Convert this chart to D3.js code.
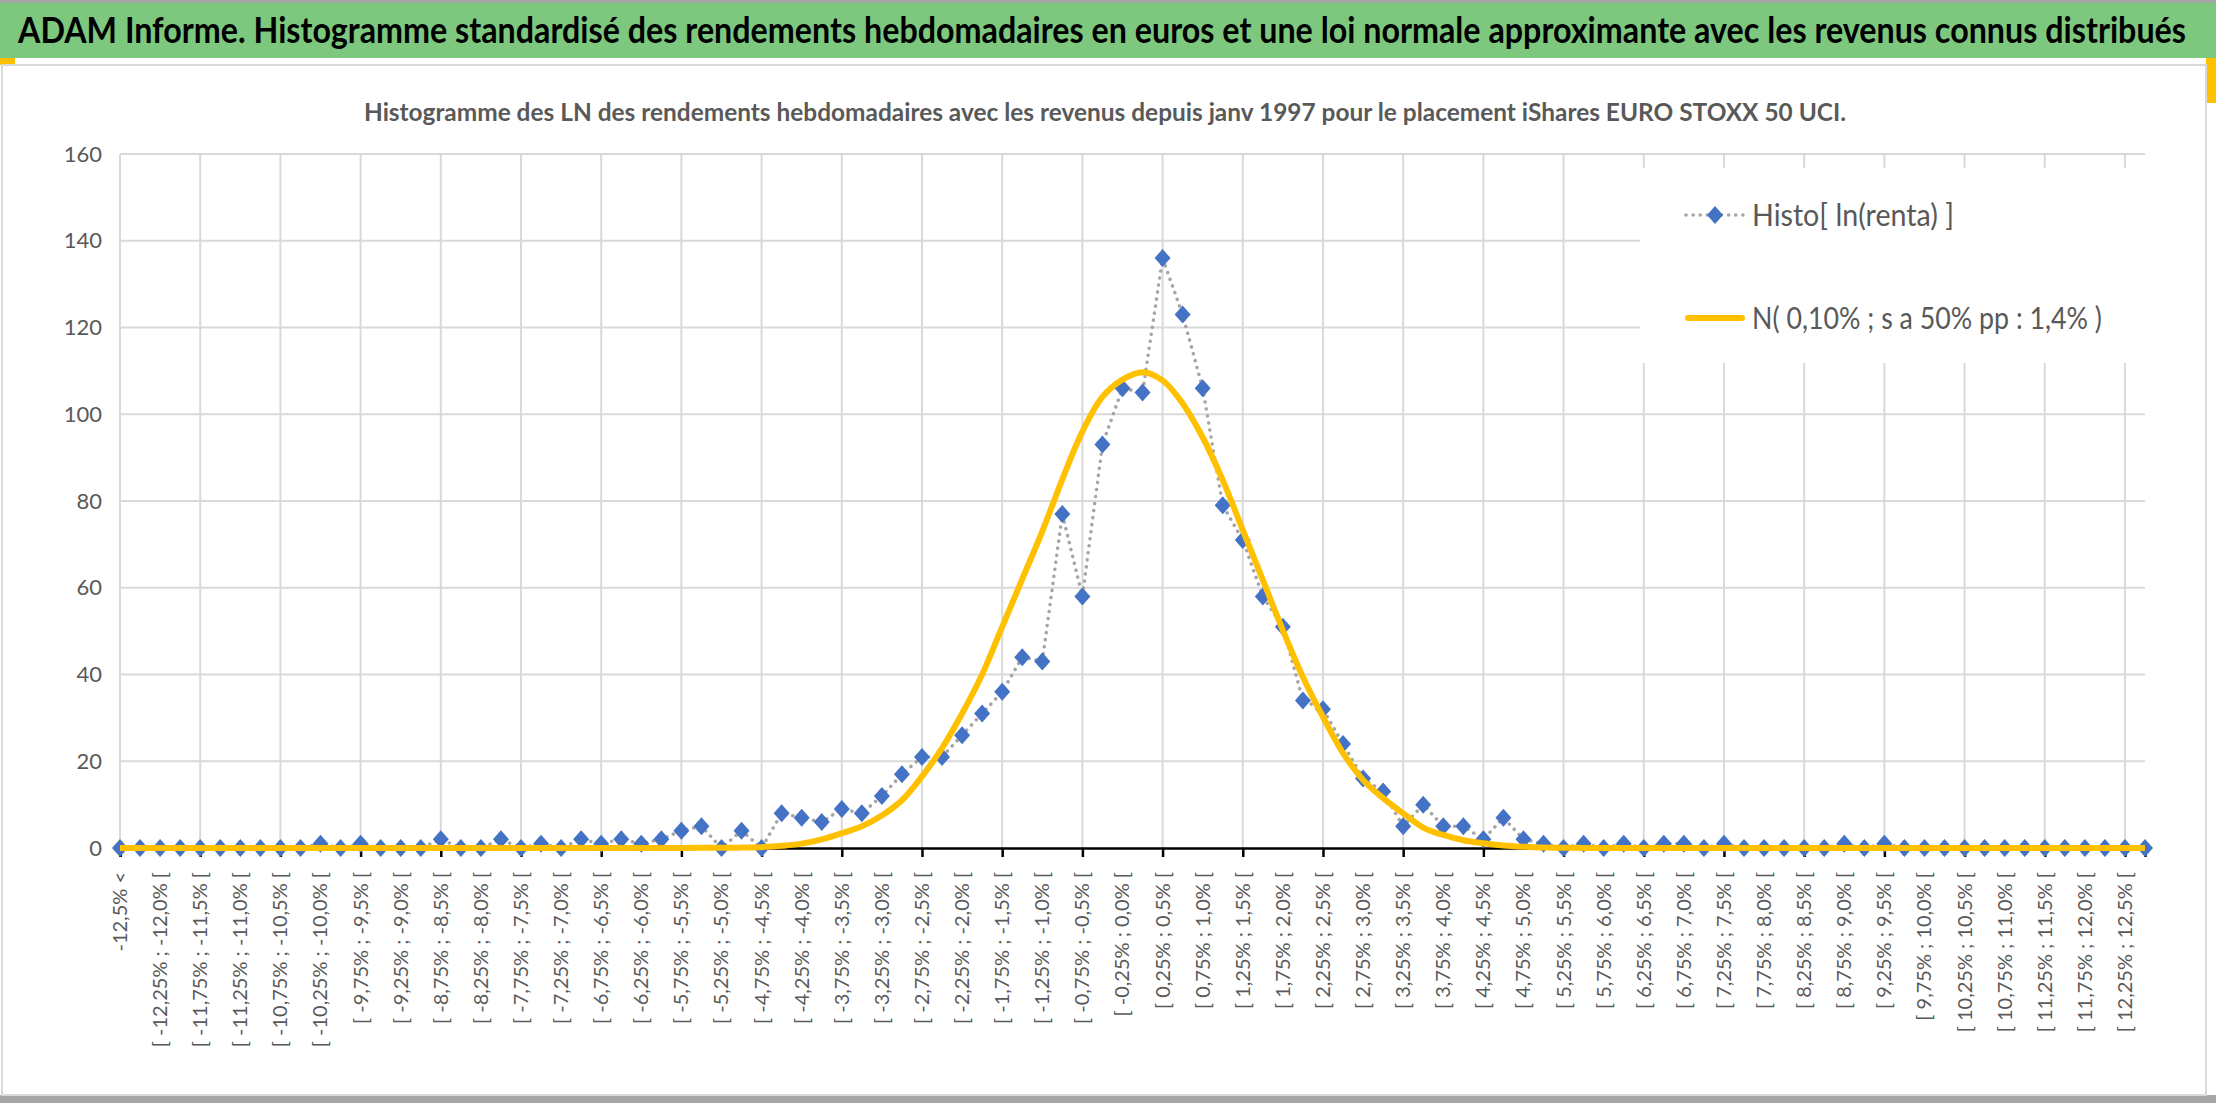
<!DOCTYPE html>
<html>
<head>
<meta charset="utf-8">
<script src="https://cdn.jsdelivr.net/npm/d3@7"></script>
<style>
  body { margin: 0; background: #fff; }
  text { font-family: Lato, "Open Sans", sans-serif; }
</style>
</head>
<body>
<div id="chart"></div>
<script>
var svgWidth = 2216;
var svgHeight = 1103;

// histogram counts, one per class (102 classes: "< -12.5%", 100 bins of 0.25%, "> 12.5%")
var histo = [
  0, 0, 0, 0, 0, 0, 0, 0, 0, 0,
  1, 0, 1, 0, 0, 0, 2, 0, 0, 2,
  0, 1, 0, 2, 1, 2, 1, 2, 4, 5,
  0, 4, 0, 8, 7, 6, 9, 8, 12, 17,
  21, 21, 26, 31, 36, 44, 43, 77, 58, 93,
  106, 105, 136, 123, 106, 79, 71, 58, 51, 34,
  32, 24, 16, 13, 5, 10, 5, 5, 2, 7,
  2, 1, 0, 1, 0, 1, 0, 1, 1, 0,
  1, 0, 0, 0, 0, 0, 1, 0, 1, 0,
  0, 0, 0, 0, 0, 0, 0, 0, 0, 0,
  0, 0
];

// approximating normal curve
var normale = [
  0, 0, 0, 0, 0, 0, 0, 0, 0, 0,
  0, 0, 0, 0, 0, 0, 0, 0, 0, 0,
  0, 0, 0, 0, 0, 0, 0, 0, 0.02, 0.03,
  0.05, 0.1, 0.2, 0.5, 1.0, 2.0, 3.4, 5, 7.5, 11,
  16.5, 23, 31, 40, 51, 62, 73, 85, 96, 104,
  108, 109.7, 107.8, 102.5, 94.7, 84.8, 73.3, 61.8, 50.2, 39.4,
  30.2, 21.9, 15.7, 11.5, 8, 4.7, 3, 1.8, 1.1, 0.6,
  0.3, 0.1, 0.05, 0.02, 0, 0, 0, 0, 0, 0,
  0, 0, 0, 0, 0, 0, 0, 0, 0, 0,
  0, 0, 0, 0, 0, 0, 0, 0, 0, 0,
  0, 0
];

var yTicks = [0, 20, 40, 60, 80, 100, 120, 140, 160];

var mainTitle = "ADAM Informe. Histogramme standardisé des rendements hebdomadaires en euros et une loi normale approximante avec les revenus connus distribués";
var subTitle = "Histogramme des LN des rendements hebdomadaires avec les revenus depuis janv 1997 pour le placement iShares EURO STOXX 50 UCI.";
var legendNames = ["Histo[ ln(renta) ]", "N( 0,10% ; s a 50% pp : 1,4% )"];

// class labels
function pct(v) {
  var s = Math.abs(v % 1) === 0.25 || Math.abs(v % 1) === 0.75 ? v.toFixed(2) : v.toFixed(1);
  return s.replace(".", ",") + "%";
}
var categories = histo.map(function(d, i) {
  if (i === 0) return "-12,5% <";
  if (i === histo.length - 1) return "12,5% <";
  var lo = -12.5 + (i - 1) * 0.25;
  return "[ " + pct(lo) + " ; " + pct(lo + 0.25) + " [";
});

var margin = { left: 120, right: 2145, top: 154, bottom: 848 };

var svg = d3.select("#chart").append("svg")
  .attr("width", svgWidth)
  .attr("height", svgHeight);

// title bar
svg.append("rect").attr("x", 0).attr("y", 0).attr("width", svgWidth).attr("height", 3).attr("fill", "#a6a6a6");
svg.append("rect").attr("x", 0).attr("y", 3).attr("width", svgWidth).attr("height", 55).attr("fill", "#7dc87e");
svg.append("rect").attr("x", 0).attr("y", 58).attr("width", 15).attr("height", 7).attr("fill", "#ffc000");
svg.append("rect").attr("x", 2206).attr("y", 58).attr("width", 10).attr("height", 45).attr("fill", "#ffc000");
svg.append("rect").attr("x", 0).attr("y", 1095).attr("width", svgWidth).attr("height", 8).attr("fill", "#a6a6a6");
svg.append("rect").attr("x", 2).attr("y", 65).attr("width", 2204).attr("height", 1030)
  .attr("fill", "none").attr("stroke", "#d9d9d9").attr("stroke-width", 2);

svg.append("text")
  .attr("x", 18).attr("y", 43)
  .attr("textLength", 2168).attr("lengthAdjust", "spacingAndGlyphs")
  .attr("font-size", "36px").attr("font-weight", "bold").attr("fill", "#000")
  .text(mainTitle);

svg.append("text")
  .attr("x", 364).attr("y", 121)
  .attr("textLength", 1482).attr("lengthAdjust", "spacingAndGlyphs")
  .attr("font-size", "24px").attr("font-weight", "bold").attr("fill", "#595959")
  .text(subTitle);

// scales
var xScale = d3.scaleLinear().domain([0, histo.length - 1]).range([margin.left, margin.right]);
var yScale = d3.scaleLinear().domain([0, 160]).range([margin.bottom, margin.top]);

// gridlines
var gridIdx = d3.range(0, histo.length, 4);
svg.append("g").selectAll("line").data(yTicks.slice(1)).enter().append("line")
  .attr("x1", margin.left).attr("x2", margin.right)
  .attr("y1", d => yScale(d)).attr("y2", d => yScale(d))
  .attr("stroke", "#d9d9d9").attr("stroke-width", 2);
svg.append("g").selectAll("line").data(gridIdx).enter().append("line")
  .attr("x1", d => xScale(d)).attr("x2", d => xScale(d))
  .attr("y1", margin.top).attr("y2", margin.bottom)
  .attr("stroke", "#d9d9d9").attr("stroke-width", 2);

// y axis labels
var leftAxis = d3.axisLeft(yScale).tickValues(yTicks).tickSize(0).tickPadding(18);
var yAxis = svg.append("g").attr("transform", `translate(${margin.left}, 0)`).call(leftAxis);
yAxis.select(".domain").remove();
yAxis.selectAll("text").attr("font-size", "22px").attr("fill", "#595959")
  .style("font-family", "Lato, sans-serif");

// x axis
var bottomAxis = d3.axisBottom(xScale).tickValues(gridIdx).tickSize(9).tickFormat("");
var xAxis = svg.append("g").attr("transform", `translate(0, ${margin.bottom})`).call(bottomAxis);
xAxis.select(".domain").attr("stroke", "#000").attr("stroke-width", 2.5);
xAxis.selectAll(".tick line").attr("stroke", "#000").attr("stroke-width", 2.5);

svg.append("g").selectAll("text")
  .data(categories.map((c, i) => [c, i]).filter(d => d[1] % 2 === 0 && d[1] <= 100))
  .enter().append("text")
  .attr("transform", d => `translate(${xScale(d[1]) + 7}, 872) rotate(-90)`)
  .attr("text-anchor", "end")
  .attr("font-size", "20px").attr("fill", "#595959")
  .text(d => d[0]);

// histogram series
var line = d3.line().x((d, i) => xScale(i)).y(d => yScale(d));
svg.append("path").datum(histo)
  .attr("d", line)
  .attr("fill", "none").attr("stroke", "#a5a5a5").attr("stroke-width", 3.5)
  .attr("stroke-linecap", "round").attr("stroke-dasharray", "0.1 7");

var diamond = "M0,-9L8,0L0,9L-8,0Z";
svg.append("g").selectAll("path").data(histo).enter().append("path")
  .attr("d", diamond)
  .attr("transform", (d, i) => `translate(${xScale(i)}, ${yScale(d)})`)
  .attr("fill", "#4472c4");

// normal curve
var smooth = d3.line().x((d, i) => xScale(i)).y(d => yScale(d)).curve(d3.curveCatmullRom);
svg.append("path").datum(normale)
  .attr("d", smooth)
  .attr("fill", "none").attr("stroke", "#ffc000").attr("stroke-width", 6);

// legend
var legend = svg.append("g");
legend.append("rect").attr("x", 1640).attr("y", 168).attr("width", 545).attr("height", 195).attr("fill", "#fff");
legend.append("line").attr("x1", 1686).attr("x2", 1744).attr("y1", 215).attr("y2", 215)
  .attr("stroke", "#a5a5a5").attr("stroke-width", 3.5)
  .attr("stroke-linecap", "round").attr("stroke-dasharray", "0.1 7");
legend.append("path").attr("d", diamond).attr("transform", "translate(1715, 215)").attr("fill", "#4472c4");
legend.append("line").attr("x1", 1688).attr("x2", 1742).attr("y1", 318).attr("y2", 318)
  .attr("stroke", "#ffc000").attr("stroke-width", 6).attr("stroke-linecap", "round");
legend.selectAll("text.lg").data(legendNames).enter().append("text")
  .attr("x", 1752).attr("y", (d, i) => i === 0 ? 226 : 329)
  .attr("font-size", "31px").attr("fill", "#595959")
  .attr("textLength", (d, i) => i === 0 ? 202 : 350).attr("lengthAdjust", "spacingAndGlyphs")
  .text(d => d);
</script>
</body>
</html>
